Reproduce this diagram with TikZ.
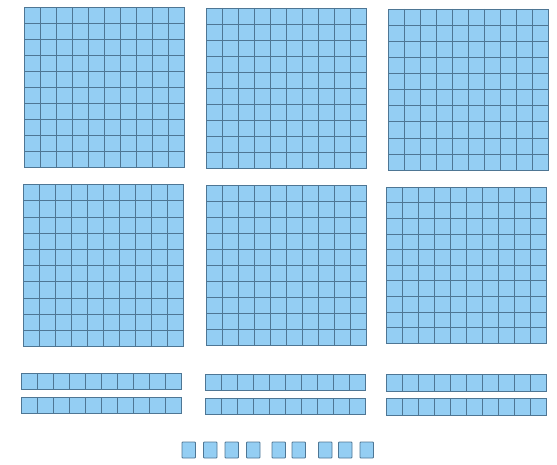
\documentclass[tikz,border=0pt]{standalone}
\usepackage{xcolor}
\definecolor{cubeblue}{RGB}{148,206,243}
\definecolor{edgeblue}{RGB}{78,118,148}

\begin{document}
\begin{tikzpicture}[x=1pt,y=-1pt,
    flat/.style={fill=cubeblue,draw=edgeblue,line width=0.9pt},
    cell/.style={draw=edgeblue,line width=0.5pt}]
  \useasboundingbox (0,0) rectangle (557,465);
  % hundreds
  \foreach \px/\py/\h in {24/7.5/160,206/8/160,388/9/161,23/184.5/162,206/185.5/160,386/187/156} {
    \draw[flat] (\px,\py) rectangle ++(160,\h);
    \foreach \k in {1,...,9} {
      \draw[cell] ({\px+16*\k},\py) -- ++(0,\h);
      \draw[cell] (\px,{\py+\h*\k/10}) -- ++(160,0);
    }
    \draw[flat,fill=none] (\px,\py) rectangle ++(160,\h);
  }
  % tens
  \foreach \px/\py in {21/373,205/374,386.5/374.5,21/397,205/398,386.5/398.5} {
    \draw[flat] (\px,\py) rectangle ++(160,16.5);
    \foreach \k in {1,...,9}
      \draw[cell] ({\px+16*\k},\py) -- ++(0,16.5);
    \draw[flat,fill=none] (\px,\py) rectangle ++(160,16.5);
  }
  % ones
  \foreach \px in {182,203.5,225,246.5,272,292,318.5,338.5,360}
    \draw[flat,rounded corners=0.8pt] (\px,442) rectangle ++(13.5,16);
\end{tikzpicture}
\end{document}
